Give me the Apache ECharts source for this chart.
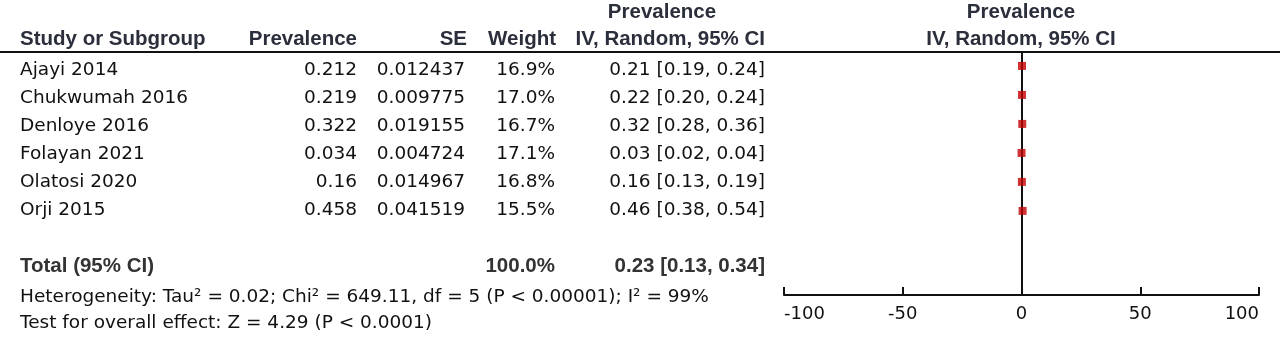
<!DOCTYPE html>
<html>
<head>
<meta charset="utf-8">
<script src="https://cdn.jsdelivr.net/npm/echarts@6/dist/echarts.min.js"></script>
<style>
  html, body { margin: 0; background: #fff; }
  #chart { width: 1280px; height: 341px; }
</style>
</head>
<body>
<div id="chart"></div>
<script>
const studies = ['Ajayi 2014', 'Chukwumah 2016', 'Denloye 2016', 'Folayan 2021', 'Olatosi 2020', 'Orji 2015'];
const prevalence = [0.212, 0.219, 0.322, 0.034, 0.16, 0.458];
const se = [0.012437, 0.009775, 0.019155, 0.004724, 0.014967, 0.041519];
const weight = [16.9, 17.0, 16.7, 17.1, 16.8, 15.5];
const est = [0.21, 0.22, 0.32, 0.03, 0.16, 0.46];
const lower = [0.19, 0.20, 0.28, 0.02, 0.13, 0.38];
const upper = [0.24, 0.24, 0.36, 0.04, 0.19, 0.54];

const totalLabel = 'Total (95% CI)';
const totalWeight = 100.0;
const totalEst = 0.23;
const totalLower = 0.13;
const totalUpper = 0.34;

const heterogeneity = 'Heterogeneity: Tau\u00b2 = 0.02; Chi\u00b2 = 649.11, df = 5 (P < 0.00001); I\u00b2 = 99%';
const overallEffect = 'Test for overall effect: Z = 4.29 (P < 0.0001)';

const axisMin = -100;
const axisMax = 100;
const axisStep = 50;

const TOTAL_ROW = 7;
const BODY = '18.5px "DejaVu Sans"';
const BOLD = 'bold 20.5px "Liberation Sans"';
const HEAD_COLOR = '#2b2e3b';
const INK = '#111';

const fmt = (v) => v.toFixed(2);
const ciText = (e, l, u) => `${fmt(e)} [${fmt(l)}, ${fmt(u)}]`;

// table columns, anchored on the table grid's x scale (0..780 px wide)
const columns = [
  {x: 20, align: 'left', text: (i) => studies[i]},
  {x: 357, align: 'right', text: (i) => String(prevalence[i])},
  {x: 465, align: 'right', text: (i) => String(se[i])},
  {x: 555, align: 'right', text: (i) => weight[i].toFixed(1) + '%'},
  {x: 765, align: 'right', text: (i) => ciText(est[i], lower[i], upper[i])},
];

const chart = echarts.init(document.getElementById('chart'));

function headText(text, x, y, align) {
  return {
    type: 'text', x, y,
    style: {text, font: BOLD, fill: HEAD_COLOR, align, verticalAlign: 'middle'},
  };
}

chart.setOption({
  animation: false,
  grid: [
    {left: 0, width: 780, top: 52, bottom: 46},
    {left: 784, right: 21, top: 52, bottom: 46},
  ],
  xAxis: [
    {gridIndex: 0, type: 'value', min: 0, max: 780, show: false},
    {
      gridIndex: 1,
      type: 'value',
      min: axisMin,
      max: axisMax,
      interval: axisStep,
      axisLine: {onZero: false, lineStyle: {color: INK, width: 2}},
      axisTick: {inside: true, length: 8, lineStyle: {color: INK, width: 2}},
      axisLabel: {
        color: INK,
        fontFamily: 'DejaVu Sans',
        fontSize: 18,
        margin: 10,
        alignMinLabel: 'left',
        alignMaxLabel: 'right',
      },
      splitLine: {show: false},
    },
  ],
  yAxis: [
    {gridIndex: 0, type: 'value', inverse: true, min: -0.66, max: 8.02, show: false},
    {
      gridIndex: 1,
      type: 'value',
      inverse: true,
      min: -0.48,
      max: 7.9,
      axisLine: {show: true, onZero: true, lineStyle: {color: INK, width: 2}},
      axisTick: {show: false},
      axisLabel: {show: false},
      splitLine: {show: false},
    },
  ],
  graphic: [
    {type: 'line', shape: {x1: 0, y1: 52, x2: 1280, y2: 52}, style: {stroke: INK, lineWidth: 2}},
    headText('Prevalence', 662, 12, 'center'),
    headText('Study or Subgroup', 20, 39, 'left'),
    headText('Prevalence', 357, 39, 'right'),
    headText('SE', 467, 39, 'right'),
    headText('Weight', 556, 39, 'right'),
    headText('IV, Random, 95% CI', 765, 39, 'right'),
    headText('Prevalence', 1021, 12, 'center'),
    headText('IV, Random, 95% CI', 1021, 39, 'center'),
    {type: 'text', x: 20, y: 297, style: {text: heterogeneity, font: BODY, fill: INK, verticalAlign: 'middle'}},
    {type: 'text', x: 20, y: 323, style: {text: overallEffect, font: BODY, fill: INK, verticalAlign: 'middle'}},
  ],
  series: [
    {
      // study rows of the table
      type: 'custom',
      xAxisIndex: 0,
      yAxisIndex: 0,
      data: studies.map((s, i) => [i]),
      renderItem: (params, api) => {
        const i = api.value(0);
        return {
          type: 'group',
          children: columns.map((c) => {
            const p = api.coord([c.x, i]);
            return {
              type: 'text', x: p[0], y: p[1],
              style: {text: c.text(i), font: BODY, fill: INK, align: c.align, verticalAlign: 'middle'},
            };
          }),
        };
      },
    },
    {
      // total row of the table
      type: 'custom',
      xAxisIndex: 0,
      yAxisIndex: 0,
      data: [[TOTAL_ROW]],
      renderItem: (params, api) => {
        const r = api.value(0);
        const cells = [
          [20, 'left', totalLabel],
          [555, 'right', totalWeight.toFixed(1) + '%'],
          [765, 'right', ciText(totalEst, totalLower, totalUpper)],
        ];
        return {
          type: 'group',
          children: cells.map(([x, align, text]) => {
            const p = api.coord([x, r]);
            return {
              type: 'text', x: p[0], y: p[1],
              style: {text, font: BOLD, fill: '#333', align, verticalAlign: 'middle'},
            };
          }),
        };
      },
    },
    {
      // confidence interval whiskers
      type: 'custom',
      xAxisIndex: 1,
      yAxisIndex: 1,
      data: studies.map((s, i) => [lower[i], upper[i], i]),
      renderItem: (params, api) => {
        const a = api.coord([api.value(0), api.value(2)]);
        const b = api.coord([api.value(1), api.value(2)]);
        return {
          type: 'line',
          shape: {x1: a[0], y1: a[1], x2: b[0], y2: b[1]},
          style: {stroke: INK, lineWidth: 1},
        };
      },
    },
    {
      type: 'scatter',
      xAxisIndex: 1,
      yAxisIndex: 1,
      symbol: 'rect',
      symbolSize: 8,
      itemStyle: {color: '#c40000'},
      z: 5,
      data: studies.map((s, i) => [est[i], i]),
    },
    {
      // pooled estimate diamond
      type: 'custom',
      xAxisIndex: 1,
      yAxisIndex: 1,
      data: [[totalLower, totalEst, totalUpper, TOTAL_ROW]],
      renderItem: (params, api) => {
        const r = api.value(3);
        const half = 0.2;
        const pts = [
          api.coord([api.value(0), r]),
          api.coord([api.value(1), r - half]),
          api.coord([api.value(2), r]),
          api.coord([api.value(1), r + half]),
        ];
        return {type: 'polygon', shape: {points: pts}, style: {fill: INK}};
      },
    },
  ],
});
</script>
</body>
</html>
